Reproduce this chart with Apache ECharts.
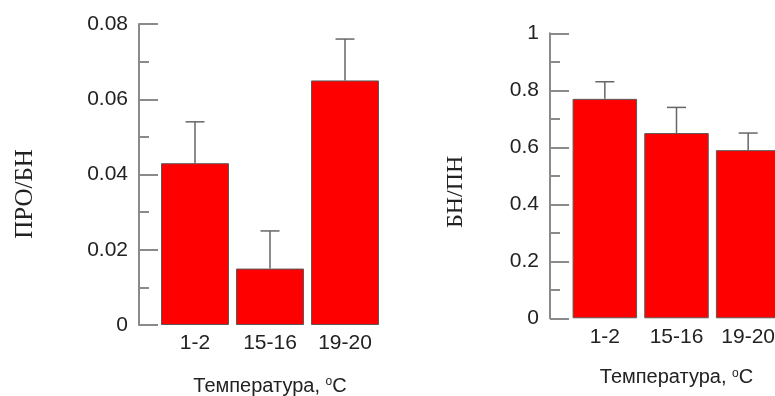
<!DOCTYPE html>
<html>
<head>
<meta charset="utf-8">
<script src="https://cdn.jsdelivr.net/npm/echarts@6/dist/echarts.min.js"></script>
<style>html,body{margin:0;padding:0;background:#fff}#c{width:775px;height:396px}</style>
</head>
<body>
<div id="c"></div>
<script>
var categories = ['1-2', '15-16', '19-20'];
var proBnMeans = [0.043, 0.015, 0.065];
var proBnUpper = [0.054, 0.025, 0.076];
var bnPnMeans = [0.77, 0.65, 0.59];
var bnPnUpper = [0.83, 0.74, 0.65];
var xAxisTitle = 'Температура, {sup|o}C';
var leftYTitle = 'ПРО/БН';
var rightYTitle = 'БН/ПН';

var sans = 'Liberation Sans, Arial, sans-serif';
var serif = 'Liberation Serif, Times New Roman, serif';
var axisGray = '#8a8a8a';

function errData(means, upper) {
  return means.map(function (m, i) { return [i, m, upper[i]]; });
}
function errRender(capW) {
  return function (params, api) {
    var i = api.value(0);
    var lo = api.coord([i, api.value(1)]);
    var hi = api.coord([i, api.value(2)]);
    var st = { stroke: '#666', lineWidth: 1.5 };
    return { type: 'group', children: [
      { type: 'line', shape: { x1: lo[0], y1: lo[1], x2: hi[0], y2: hi[1] }, style: st },
      { type: 'line', shape: { x1: hi[0] - capW / 2, y1: hi[1], x2: hi[0] + capW / 2, y2: hi[1] }, style: st }
    ]};
  };
}
function xAx(gi, gap) {
  return {
    type: 'category', gridIndex: gi, data: categories,
    axisLine: { show: false }, axisTick: { show: false },
    axisLabel: { interval: 0, margin: 8, fontSize: 21, color: '#222', fontFamily: sans },
    name: xAxisTitle, nameLocation: 'middle', nameGap: gap,
    nameTextStyle: { fontSize: 20, color: '#222', fontFamily: sans,
      rich: { sup: { fontSize: 12, verticalAlign: 'top', padding: [0, 0, 8, 0], color: '#222', fontFamily: sans } } }
  };
}
function yAx(gi, max, interval, offset, name, nameGap, shift, nameSize) {
  return {
    type: 'value', gridIndex: gi, min: 0, max: max, interval: interval, offset: offset,
    splitLine: { show: false },
    axisLine: { show: true, lineStyle: { color: axisGray, width: 2 } },
    axisTick: { show: true, inside: true, length: 19, lineStyle: { color: axisGray, width: 2 } },
    minorTick: { show: true, splitNumber: 2, length: 10, lineStyle: { color: axisGray, width: 2 } },
    axisLabel: { margin: 11, fontSize: 21, color: '#222', fontFamily: sans },
    name: name, nameLocation: 'middle', nameGap: nameGap,
    nameTextStyle: { fontSize: nameSize, color: '#222', fontFamily: serif, padding: [0, shift, 0, 0] }
  };
}
function barS(gi, means, w) {
  return {
    type: 'bar', xAxisIndex: gi, yAxisIndex: gi, data: means, barWidth: w,
    itemStyle: { color: '#ff0000', borderColor: '#5a5a5a', borderWidth: 1 }, silent: true
  };
}
function errS(gi, means, upper) {
  return {
    type: 'custom', xAxisIndex: gi, yAxisIndex: gi, data: errData(means, upper),
    renderItem: errRender(19), silent: true, z: 3
  };
}

var chart = echarts.init(document.getElementById('c'));
chart.setOption({
  animation: false,
  backgroundColor: '#fff',
  grid: [
    { left: 157.5, top: 24, width: 225, height: 301, outerBoundsMode: 'none', containLabel: false },
    { left: 569, top: 33.3, width: 215, height: 285, outerBoundsMode: 'none', containLabel: false }
  ],
  xAxis: [xAx(0, 51), xAx(1, 49)],
  yAxis: [
    yAx(0, 0.08, 0.02, 18.5, leftYTitle, 101, 39, 25),
    yAx(1, 1, 0.2, 19, rightYTitle, 82, 32, 24)
  ],
  series: [
    barS(0, proBnMeans, 68), errS(0, proBnMeans, proBnUpper),
    barS(1, bnPnMeans, 64.5), errS(1, bnPnMeans, bnPnUpper)
  ]
});
</script>
</body>
</html>
